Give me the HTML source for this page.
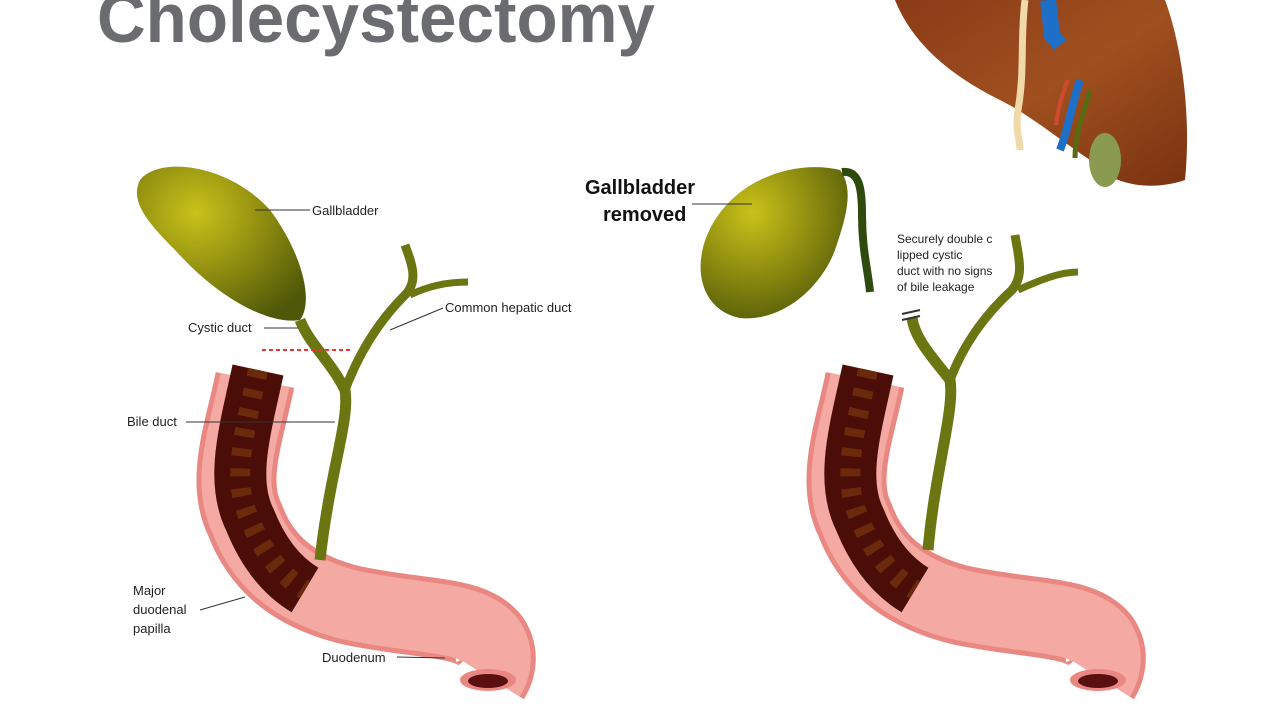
<!DOCTYPE html>
<html><head><meta charset="utf-8"><style>
html,body{margin:0;padding:0;background:#fff;width:1280px;height:720px;overflow:hidden}
svg{display:block}
text{font-family:"Liberation Sans",sans-serif}
</style></head><body>
<svg width="1280" height="720" viewBox="0 0 1280 720" xmlns="http://www.w3.org/2000/svg">
<defs>
<radialGradient id="gb" cx="0.35" cy="0.3" r="0.8">
<stop offset="0" stop-color="#c9c21a"/><stop offset="0.5" stop-color="#8f8d10"/><stop offset="1" stop-color="#4f5808"/>
</radialGradient>
<linearGradient id="liv" x1="0" y1="0" x2="1" y2="1">
<stop offset="0" stop-color="#8a3b17"/><stop offset="0.5" stop-color="#a0501f"/><stop offset="1" stop-color="#7a3210"/>
</linearGradient>
</defs>
<text x="97" y="42" font-size="70" font-weight="bold" fill="#6b6c70" textLength="558" lengthAdjust="spacingAndGlyphs">Cholecystectomy</text>

<path d="M895,0 L1165,0 C1180,40 1192,110 1185,180 C1150,192 1110,185 1090,160 C1060,140 1030,115 1000,100 C960,80 915,50 895,0 Z" fill="url(#liv)"/>
<path d="M1025,0 C1020,40 1025,70 1018,110 C1015,130 1020,140 1020,150" stroke="#f0d8a8" stroke-width="7" fill="none"/>
<path d="M1048,0 L1052,35 L1060,45" stroke="#1e6fc8" stroke-width="16" fill="none"/>
<path d="M1080,80 C1070,110 1068,130 1060,150" stroke="#1e6fc8" stroke-width="8" fill="none"/>
<path d="M1068,80 C1060,100 1058,110 1056,125" stroke="#d04a30" stroke-width="4" fill="none"/>
<path d="M1090,90 C1085,110 1075,130 1075,158" stroke="#5a6a10" stroke-width="5" fill="none"/>
<ellipse cx="1105" cy="160" rx="16" ry="27" fill="#8a9a50"/>

<path d="M255,380 C245,430 225,480 245,520 C260,560 290,590 350,605 C420,620 470,615 490,640 C500,655 495,670 490,678" stroke="#e98882" stroke-width="80" fill="none"/>
<path d="M255,380 C245,430 225,480 245,520 C260,560 290,590 350,605 C420,620 470,615 490,640 C500,655 495,670 490,678" stroke="#f5a9a3" stroke-width="70" fill="none"/>
<path d="M258,370 C245,430 230,480 250,520 C262,550 280,575 305,590" stroke="#4a0d08" stroke-width="52" fill="none"/>
<path d="M258,370 C245,430 230,480 250,520 C262,550 280,575 305,590" stroke="#6b2a0c" stroke-width="20" fill="none" stroke-dasharray="8 12"/>
<ellipse cx="488" cy="680" rx="28" ry="11" fill="#e98882"/>
<ellipse cx="488" cy="681" rx="20" ry="7" fill="#5a1010"/>
<path d="M300,320 C310,345 330,360 345,390 C350,420 330,470 320,560" stroke="#6b7511" stroke-width="11" fill="none"/>
<path d="M345,390 C360,350 380,320 405,295 C420,280 410,260 405,245" stroke="#6b7511" stroke-width="9" fill="none"/>
<path d="M410,295 C430,285 450,282 468,282" stroke="#6b7511" stroke-width="7" fill="none"/>
<path d="M140,180 C160,155 230,165 270,210 C300,250 315,300 300,320 C270,325 220,300 175,250 C145,220 130,200 140,180 Z" fill="url(#gb)"/>
<line x1="262" y1="350" x2="350" y2="350" stroke="#e33" stroke-width="2" stroke-dasharray="4 3"/>
<g font-size="13" fill="#222">
<text x="312" y="215">Gallbladder</text><line x1="255" y1="210" x2="310" y2="210" stroke="#333"/>
<text x="445" y="312">Common hepatic duct</text><line x1="390" y1="330" x2="443" y2="308" stroke="#333"/>
<text x="188" y="332">Cystic duct</text><line x1="264" y1="328" x2="298" y2="328" stroke="#333"/>
<text x="127" y="426">Bile duct</text><line x1="186" y1="422" x2="335" y2="422" stroke="#333"/>
<text x="133" y="595">Major</text><text x="133" y="614">duodenal</text><text x="133" y="633">papilla</text>
<line x1="200" y1="610" x2="245" y2="597" stroke="#333"/>
<text x="322" y="662">Duodenum</text><line x1="397" y1="657" x2="445" y2="658" stroke="#333"/>
</g>

<path d="M865,380 C855,430 835,480 855,520 C870,560 900,590 960,605 C1030,620 1080,615 1100,640 C1110,655 1105,670 1100,678" stroke="#e98882" stroke-width="80" fill="none"/>
<path d="M865,380 C855,430 835,480 855,520 C870,560 900,590 960,605 C1030,620 1080,615 1100,640 C1110,655 1105,670 1100,678" stroke="#f5a9a3" stroke-width="70" fill="none"/>
<path d="M868,370 C855,430 840,480 860,520 C872,550 890,575 915,590" stroke="#4a0d08" stroke-width="52" fill="none"/>
<path d="M868,370 C855,430 840,480 860,520 C872,550 890,575 915,590" stroke="#6b2a0c" stroke-width="20" fill="none" stroke-dasharray="8 12"/>
<ellipse cx="1098" cy="680" rx="28" ry="11" fill="#e98882"/>
<ellipse cx="1098" cy="681" rx="20" ry="7" fill="#5a1010"/>
<path d="M912,318 C915,340 935,360 950,380 C955,410 935,470 928,550" stroke="#6b7511" stroke-width="11" fill="none"/>
<path d="M950,380 C965,340 990,310 1012,290 C1025,275 1018,255 1015,235" stroke="#6b7511" stroke-width="9" fill="none"/>
<path d="M1018,290 C1040,280 1060,272 1078,272" stroke="#6b7511" stroke-width="7" fill="none"/>
<line x1="902" y1="314" x2="920" y2="310" stroke="#333" stroke-width="2"/>
<line x1="902" y1="320" x2="920" y2="316" stroke="#333" stroke-width="2"/>
<path d="M840,170 C800,160 740,175 712,225 C690,265 700,310 740,318 C780,322 820,290 835,250 C845,220 855,190 840,170 Z" fill="url(#gb)"/>
<path d="M842,172 C860,170 862,190 862,215 C862,250 868,270 870,292" stroke="#2e4a0c" stroke-width="8" fill="none"/>
<g font-size="12" fill="#222">
<text x="897" y="243">Securely double c</text><text x="897" y="259">lipped cystic</text>
<text x="897" y="275">duct with no signs</text><text x="897" y="291">of bile leakage</text>
</g>
<text x="585" y="194" font-size="20" font-weight="bold" fill="#111">Gallbladder</text>
<text x="603" y="221" font-size="20" font-weight="bold" fill="#111">removed</text>
<line x1="692" y1="204" x2="752" y2="204" stroke="#333"/>
</svg>
</body></html>
